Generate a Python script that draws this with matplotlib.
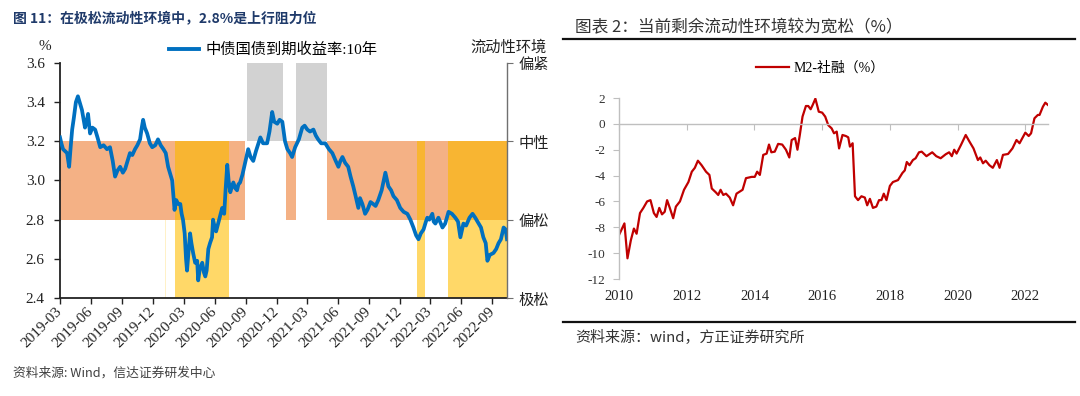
import numpy as np
import pandas as pd
import matplotlib
matplotlib.use("Agg")
import matplotlib.pyplot as plt
import matplotlib.dates as mdates
from matplotlib.lines import Line2D

plt.rcParams.update({
    "font.family": ["Liberation Serif", "Noto Sans CJK SC"],
    "axes.unicode_minus": False,
    "axes.linewidth": 1.0,
})
CJK = ["Noto Sans CJK SC", "DejaVu Sans"]

# ---------------------------------------------------------------------------
# Left panel: 10y CGB yield and liquidity regime
# ---------------------------------------------------------------------------
yield_dates = [
    "2019-03-01", "2019-03-05", "2019-03-10", "2019-03-16", "2019-03-22", "2019-03-28",
    "2019-04-02", "2019-04-06", "2019-04-11", "2019-04-17", "2019-04-23", "2019-04-28",
    "2019-05-05", "2019-05-10", "2019-05-14", "2019-05-19", "2019-05-23", "2019-05-29",
    "2019-06-05", "2019-06-13", "2019-06-20", "2019-06-28", "2019-07-08", "2019-07-18",
    "2019-07-27", "2019-08-04", "2019-08-11", "2019-08-18", "2019-08-26", "2019-09-03",
    "2019-09-10", "2019-09-17", "2019-09-24", "2019-10-01", "2019-10-09", "2019-10-16",
    "2019-10-24", "2019-10-29", "2019-11-02", "2019-11-07", "2019-11-14", "2019-11-22",
    "2019-11-29", "2019-12-08", "2019-12-16", "2019-12-24", "2020-01-01", "2020-01-08",
    "2020-01-15", "2020-01-22", "2020-01-27", "2020-02-03", "2020-02-08", "2020-02-14",
    "2020-02-20", "2020-02-24", "2020-02-28", "2020-03-04", "2020-03-08", "2020-03-11",
    "2020-03-16", "2020-03-20", "2020-03-24", "2020-03-29", "2020-04-04", "2020-04-10",
    "2020-04-13", "2020-04-18", "2020-04-25", "2020-04-30", "2020-05-04", "2020-05-08",
    "2020-05-13", "2020-05-18", "2020-05-24", "2020-05-27", "2020-06-01", "2020-06-05",
    "2020-06-11", "2020-06-17", "2020-06-23", "2020-06-29", "2020-07-03", "2020-07-08",
    "2020-07-12", "2020-07-17", "2020-07-22", "2020-07-26", "2020-08-01", "2020-08-06",
    "2020-08-10", "2020-08-15", "2020-08-22", "2020-08-30", "2020-09-08", "2020-09-15",
    "2020-09-23", "2020-10-01", "2020-10-14", "2020-10-22", "2020-11-03", "2020-11-10",
    "2020-11-18", "2020-11-24", "2020-12-03", "2020-12-10", "2020-12-18", "2020-12-26",
    "2021-01-02", "2021-01-10", "2021-01-16", "2021-01-25", "2021-02-05", "2021-02-15",
    "2021-02-22", "2021-03-02", "2021-03-10", "2021-03-20", "2021-03-27", "2021-04-03",
    "2021-04-12", "2021-04-24", "2021-05-05", "2021-05-15", "2021-05-25", "2021-06-02",
    "2021-06-08", "2021-06-14", "2021-06-22", "2021-07-01", "2021-07-08", "2021-07-16",
    "2021-07-23", "2021-07-31", "2021-08-05", "2021-08-12", "2021-08-20", "2021-08-27",
    "2021-09-05", "2021-09-13", "2021-09-20", "2021-09-28", "2021-10-08", "2021-10-19",
    "2021-10-28", "2021-11-05", "2021-11-12", "2021-11-22", "2021-12-02", "2021-12-12",
    "2021-12-23", "2022-01-01", "2022-01-10", "2022-01-18", "2022-01-25", "2022-02-01",
    "2022-02-09", "2022-02-16", "2022-02-20", "2022-02-26", "2022-03-07", "2022-03-11",
    "2022-03-16", "2022-03-25", "2022-04-06", "2022-04-14", "2022-04-24", "2022-05-04",
    "2022-05-14", "2022-05-22", "2022-05-29", "2022-06-07", "2022-06-15", "2022-06-25",
    "2022-07-04", "2022-07-12", "2022-07-22", "2022-07-29", "2022-08-05", "2022-08-12",
    "2022-08-17", "2022-08-24", "2022-09-04", "2022-09-12", "2022-09-19", "2022-09-26",
    "2022-10-04", "2022-10-10", "2022-10-14",
]
yield_vals = [
    3.22, 3.19, 3.16, 3.15, 3.14, 3.07,
    3.18, 3.26, 3.32, 3.40, 3.43, 3.40,
    3.36, 3.31, 3.27, 3.30, 3.34, 3.24,
    3.27, 3.26, 3.22, 3.17, 3.18, 3.16,
    3.17, 3.10, 3.02, 3.05, 3.07, 3.04,
    3.06, 3.10, 3.14, 3.13, 3.16, 3.18,
    3.21, 3.27, 3.31, 3.27, 3.24, 3.19,
    3.17, 3.18, 3.21, 3.18, 3.16, 3.14,
    3.07, 3.03, 3.00, 2.85, 2.90, 2.88,
    2.88, 2.83, 2.80, 2.73, 2.60, 2.54,
    2.65, 2.73, 2.68, 2.63, 2.58, 2.59,
    2.49, 2.55, 2.58, 2.53, 2.51, 2.54,
    2.65, 2.68, 2.71, 2.80, 2.76, 2.74,
    2.78, 2.82, 2.86, 2.83, 2.95, 3.08,
    3.00, 2.94, 2.97, 2.99, 2.96, 2.95,
    2.98, 2.99, 3.03, 3.09, 3.16, 3.12,
    3.10, 3.15, 3.22, 3.19, 3.19, 3.25,
    3.35, 3.30, 3.29, 3.31, 3.30, 3.20,
    3.16, 3.14, 3.12, 3.17, 3.21, 3.27,
    3.28, 3.26, 3.25, 3.26, 3.23, 3.21,
    3.19, 3.19, 3.16, 3.14, 3.10, 3.07,
    3.10, 3.12, 3.09, 3.07, 3.02, 2.97,
    2.92, 2.86, 2.91, 2.88, 2.83, 2.85,
    2.89, 2.88, 2.87, 2.90, 2.95, 3.04,
    2.97, 2.95, 2.92, 2.90, 2.86, 2.84,
    2.83, 2.80, 2.76, 2.72, 2.70, 2.73,
    2.75, 2.79, 2.81, 2.80, 2.83, 2.79,
    2.78, 2.81, 2.76, 2.78, 2.84, 2.83,
    2.81, 2.79, 2.71, 2.78, 2.77, 2.81,
    2.83, 2.81, 2.78, 2.76, 2.71, 2.68,
    2.59, 2.62, 2.63, 2.65, 2.68, 2.70,
    2.76, 2.75, 2.70,
]

regime_start = ["2019-03-01", "2020-01-06", "2020-02-03", "2020-07-14", "2020-09-05",
                "2020-12-30", "2021-01-28", "2021-04-28", "2022-01-22", "2022-02-12",
                "2022-04-21"]
regime_end = ["2020-02-03", "2020-01-09", "2020-07-14", "2020-08-30", "2020-12-21",
              "2021-01-28", "2021-04-28", "2022-01-22", "2022-02-12", "2022-04-21",
              "2022-10-14"]
regime_kind = ["偏松", "痕", "极松", "偏松", "偏紧",
               "偏松", "偏紧", "偏松", "极松", "偏松",
               "极松"]

env_ticks = [2.4, 2.8, 3.2, 3.6]
env_labels = ["极松", "偏松", "中性", "偏紧"]

# ---------------------------------------------------------------------------
# Right panel: M2 minus social financing growth
# ---------------------------------------------------------------------------
m2_years = [
    2010.00, 2010.16, 2010.25, 2010.35, 2010.44, 2010.52, 2010.62, 2010.72, 2010.83, 2010.93,
    2011.03, 2011.11, 2011.19, 2011.27, 2011.35, 2011.42, 2011.50, 2011.60, 2011.68, 2011.80,
    2011.92, 2012.05, 2012.15, 2012.24, 2012.33, 2012.44, 2012.57, 2012.67, 2012.74, 2012.86,
    2012.93, 2013.00, 2013.08, 2013.16, 2013.27, 2013.37, 2013.47, 2013.65, 2013.75, 2013.92,
    2014.01, 2014.08, 2014.16, 2014.26, 2014.36, 2014.43, 2014.50, 2014.60, 2014.70, 2014.82,
    2014.93, 2015.03, 2015.10, 2015.20, 2015.27, 2015.34, 2015.42, 2015.52, 2015.59, 2015.66,
    2015.72, 2015.80, 2015.90, 2016.00, 2016.09, 2016.18, 2016.28, 2016.35, 2016.43, 2016.50,
    2016.60, 2016.70, 2016.77, 2016.82, 2016.90, 2016.97, 2017.06, 2017.16, 2017.26, 2017.33,
    2017.41, 2017.50, 2017.60, 2017.68, 2017.75, 2017.82, 2017.90, 2018.00, 2018.09, 2018.24,
    2018.37, 2018.44, 2018.50, 2018.58, 2018.68, 2018.76, 2018.86, 2018.94, 2019.08, 2019.25,
    2019.37, 2019.50, 2019.65, 2019.75, 2019.83, 2019.90, 2019.97, 2020.10, 2020.24, 2020.35,
    2020.47, 2020.60, 2020.67, 2020.75, 2020.83, 2020.94, 2021.04, 2021.16, 2021.24, 2021.34,
    2021.49, 2021.62, 2021.74, 2021.83, 2022.00, 2022.10, 2022.17, 2022.27, 2022.37, 2022.42,
    2022.52, 2022.59, 2022.67,
]
m2_vals = [
    -8.6, -7.7, -10.4, -9.0, -8.1, -8.5, -6.9, -6.5, -6.0, -5.9,
    -6.9, -7.2, -6.5, -7.0, -6.8, -5.9, -6.5, -7.3, -6.4, -6.0,
    -5.1, -4.5, -3.7, -3.4, -2.85, -3.2, -3.7, -3.95, -5.0, -5.3,
    -5.5, -5.1, -5.5, -5.4, -5.7, -6.3, -5.4, -5.1, -4.2, -4.1,
    -4.1, -3.7, -3.95, -2.4, -2.3, -1.6, -2.2, -2.15, -1.55, -1.6,
    -2.0, -2.6, -1.25, -1.1, -2.0, -0.86, 0.56, 1.38, 1.38, 1.13,
    1.46, 1.95, 0.94, 0.87, 0.56, -0.1, -0.35, -0.73, -0.6, -1.9,
    -0.86, -0.94, -1.04, -1.76, -1.5, -5.6, -5.9, -5.6, -5.7, -6.3,
    -5.8, -6.5, -6.4, -5.9, -5.9, -5.4, -5.9, -4.8, -4.5, -4.35,
    -3.8, -3.6, -2.95, -3.2, -2.8, -2.66, -2.2, -2.15, -2.5, -2.2,
    -2.5, -2.66, -2.35, -2.2, -2.5, -2.0, -2.3, -1.63, -0.86, -1.37,
    -1.9, -2.8, -2.6, -3.05, -2.85, -3.2, -3.4, -2.8, -3.4, -2.4,
    -2.33, -1.9, -1.25, -1.5, -0.68, -0.94, -0.73, 0.43, 0.69, 0.69,
    1.33, 1.64, 1.46,
]
year_ticks = [2010, 2012, 2014, 2016, 2018, 2020, 2022]

# regime -> (bottom, top, colour) bands
BANDS = {
    "偏紧": [(3.2, 3.6, "#D2D2D2")],
    "偏松": [(2.8, 3.2, "#F4B185")],
    "极松": [(2.8, 3.2, "#F8B532"), (2.4, 2.8, "#FFD868")],
    "痕":   [(2.4, 2.8, "#FFF1C8")],
}

fig = plt.figure(figsize=(10.8, 3.96), dpi=100)
W, H = 1080, 396


def fa(x0, y0, x1, y1):
    return [x0 / W, 1 - y1 / H, (x1 - x0) / W, (y1 - y0) / H]


# ============================================================================
# Left panel
# ============================================================================
ax = fig.add_axes(fa(60, 63, 507, 298))
starts = mdates.date2num(pd.to_datetime(regime_start))
ends = mdates.date2num(pd.to_datetime(regime_end))
for s, e, k in zip(starts, ends, regime_kind):
    for lo, hi, c in BANDS[k]:
        ax.bar(s, hi - lo, width=e - s, bottom=lo, align="edge",
               color=c, linewidth=0, zorder=1)

ln, = ax.plot(pd.to_datetime(yield_dates), yield_vals, color="#0070C0",
              lw=2.7, solid_joinstyle="round", zorder=3)

ax.set_xlim(pd.Timestamp("2019-03-01"), pd.Timestamp("2022-10-14"))
ax.set_ylim(2.4, 3.6)
ax.set_yticks(np.arange(2.4, 3.61, 0.2))
ax.yaxis.set_major_formatter(plt.FormatStrFormatter("%.1f"))
ax.xaxis.set_major_locator(mdates.MonthLocator(bymonth=[3, 6, 9, 12]))
ax.xaxis.set_major_formatter(mdates.DateFormatter("%Y-%m"))
for lab in ax.get_xticklabels():
    lab.set_rotation(45)
    lab.set_ha("right")
    lab.set_va("center")
    lab.set_rotation_mode("anchor")
ax.tick_params(axis="both", direction="out", length=4, width=1.0,
               labelsize=11, colors="#222222")
ax.tick_params(axis="y", pad=7)
ax.tick_params(axis="x", pad=4)
for side in ("top", "right"):
    ax.spines[side].set_visible(False)
ax.spines["left"].set_color("#222222")
ax.spines["bottom"].set_color("#222222")
ax.spines["left"].set_linewidth(1.3)
ax.spines["bottom"].set_linewidth(1.3)

axr = ax.twinx()
axr.set_ylim(2.4, 3.6)
axr.set_yticks(env_ticks)
axr.set_yticklabels(env_labels, family=CJK, fontsize=11, color="#222222")
axr.tick_params(axis="y", direction="out", length=4, color="#707070", pad=4)
for side in ("top", "left", "bottom"):
    axr.spines[side].set_visible(False)
axr.spines["right"].set_color("#707070")

fig.legend([Line2D([0], [0], color="#0070C0", lw=2.8)],
           ["中债国债到期收益率:10年"], loc="center",
           bbox_to_anchor=(273 / W, 1 - 50 / H), frameon=False,
           prop={"family": ["Liberation Serif", "Noto Sans CJK SC"], "size": 11},
           handlelength=2.0, handletextpad=0.4)
fig.text(45 / W, 1 - 47 / H, "%", ha="center", va="center",
         fontsize=11, color="#222222")
fig.text(509 / W, 1 - 47 / H, "流动性环境", ha="center", va="center",
         family=CJK, fontsize=11, color="#222222")
fig.text(13 / W, 1 - 19 / H, "图 11：在极松流动性环境中，2.8%是上行阻力位",
         ha="left", va="center", family=CJK, fontsize=10,
         fontweight="bold", color="#1F3A6A")
fig.text(13 / W, 1 - 373 / H, "资料来源: Wind，信达证券研发中心",
         ha="left", va="center", family=CJK, fontsize=9.2,
         style="italic", color="#404040")

# ============================================================================
# Right panel
# ============================================================================
ax2 = fig.add_axes(fa(619, 98, 1048, 279))
ax2.plot(m2_years, m2_vals, color="#C00000", lw=1.6, label="M2-社融（%）")
ax2.set_xlim(2010, 2022.67)
ax2.set_ylim(-12, 2)
ax2.set_yticks(np.arange(-12, 3, 2))
ax2.set_xticks(year_ticks)
ax2.spines["bottom"].set_position(("data", 0))
ax2.spines["bottom"].set_color("#BFBFBF")
ax2.spines["left"].set_color("#BFBFBF")
for side in ("top", "right"):
    ax2.spines[side].set_visible(False)
ax2.tick_params(axis="x", direction="out", length=4, color="#BFBFBF",
                labelbottom=False)
ax2.tick_params(axis="y", direction="out", length=4, color="#BFBFBF",
                labelsize=9.5, labelcolor="#333333", pad=6)

sec = ax2.secondary_xaxis(0)
sec.set_xticks(year_ticks)
sec.set_xticklabels([str(y) for y in year_ticks])
sec.tick_params(length=0, labelsize=10.5, labelcolor="#222222", pad=8)
sec.spines["bottom"].set_visible(False)

ax2.legend(loc="center", bbox_to_anchor=(820 / W, 1 - 68 / H),
           bbox_transform=fig.transFigure, frameon=False,
           prop={"family": ["Liberation Serif", "Noto Sans CJK SC"], "size": 10},
           handlelength=2.4, handletextpad=0.3)

fig.text(575 / W, 1 - 28 / H, "图表 2：当前剩余流动性环境较为宽松（%）",
         ha="left", va="center", family=CJK, fontsize=12, color="#333333")
fig.add_artist(Line2D([563 / W, 1075 / W], [1 - 39 / H] * 2,
                      color="#111111", lw=1.6))
fig.add_artist(Line2D([563 / W, 1075 / W], [1 - 322 / H] * 2,
                      color="#111111", lw=1.6))
fig.text(575 / W, 1 - 338 / H, "资料来源：wind，方正证券研究所",
         ha="left", va="center", family=CJK, fontsize=10.8,
         style="italic", color="#333333")

fig.savefig("out.png", dpi=100)
